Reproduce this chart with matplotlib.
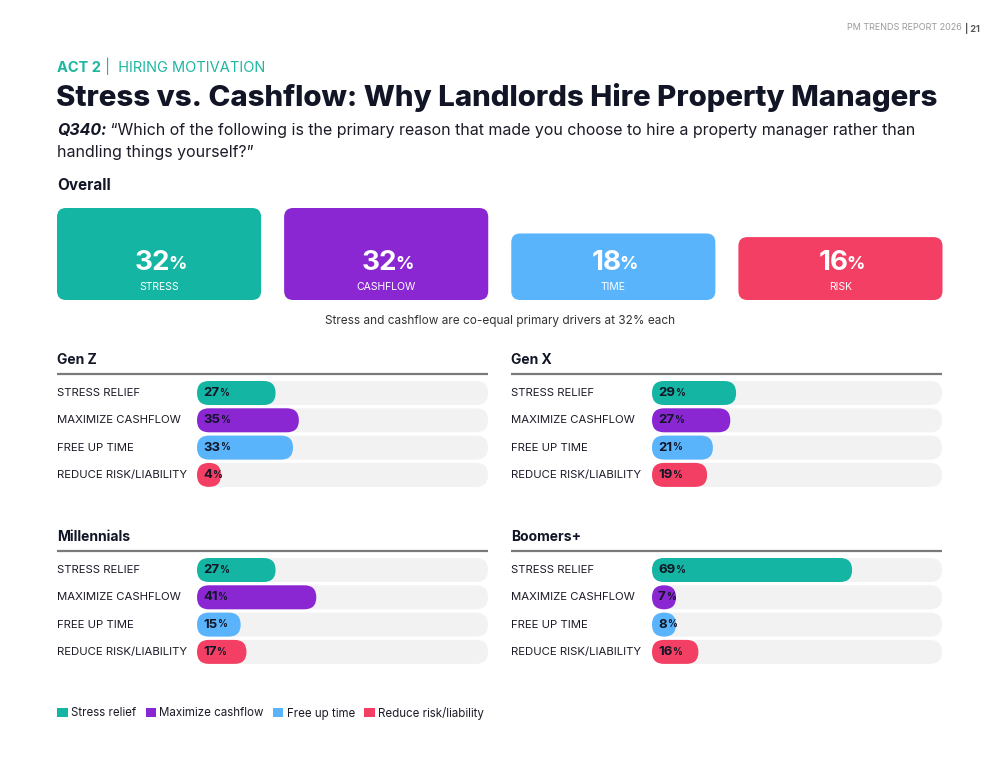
import matplotlib
matplotlib.use("Agg")
import matplotlib.pyplot as plt
from matplotlib.patches import FancyBboxPatch, Patch
from matplotlib.transforms import blended_transform_factory, offset_copy

W, H = 1000, 773
FONT = ['Inter', 'DejaVu Sans']
plt.rcParams['font.family'] = FONT

# ---------------- data ----------------
categories = ["STRESS RELIEF", "MAXIMIZE CASHFLOW", "FREE UP TIME", "REDUCE RISK/LIABILITY"]
legend_labels = ["Stress relief", "Maximize cashflow", "Free up time", "Reduce risk/liability"]
overall_labels = ["STRESS", "CASHFLOW", "TIME", "RISK"]
overall_values = [32, 32, 18, 16]
gen_z = [27, 35, 33, 4]
gen_x = [29, 27, 21, 19]
millennials = [27, 41, 15, 17]
boomers = [69, 7, 8, 16]
panel_titles = ["Gen Z", "Gen X", "Millennials", "Boomers+"]
colors = ["#14B5A2", "#8A27D2", "#5AB4FC", "#F43F64"]

TXT = "#1c1c28"
TITLE = "#111526"
TEAL = "#1DB7A0"

fig = plt.figure(figsize=(10, 7.73), dpi=100)
bg = fig.add_axes([0, 0, 1, 1])
bg.set_xlim(0, W)
bg.set_ylim(H, 0)
bg.axis('off')


def rect(x0, y0, x1, y1):
    return [x0 / W, 1 - y1 / H, (x1 - x0) / W, (y1 - y0) / H]


def aspect_of(ax):
    bb = ax.get_position()
    wpx = bb.width * W
    hpx = bb.height * H
    x0, x1 = ax.get_xlim()
    y0, y1 = ax.get_ylim()
    px = wpx / abs(x1 - x0)
    py = hpx / abs(y1 - y0)
    return px / py, px


# ---------------- header ----------------
bg.text(980, 28, "| 21", ha='right', va='center', fontsize=6.5, color='#555555', fontweight='bold')
bg.text(962, 28, "PM TRENDS REPORT 2026", ha='right', va='center', fontsize=6.5, color='#9a9a9a')

t = bg.text(57, 68, "ACT 2", ha='left', va='center', fontsize=10.5, color=TEAL, fontweight='bold')
bg.annotate(" |  HIRING MOTIVATION", xy=(1, 0), xycoords=t, ha='left', va='bottom',
            fontsize=10.5, color=TEAL)

bg.text(56, 97, "Stress vs. Cashflow: Why Landlords Hire Property Managers", ha='left', va='center',
        fontsize=21.2, fontweight='heavy', color=TITLE)

q = bg.text(57, 130, "Q340:", ha='left', va='center', fontsize=11.5, fontweight='bold', style='italic', color=TITLE)
bg.annotate(" \u201cWhich of the following is the primary reason that made you choose to hire a property manager rather than",
            xy=(1, 0), xycoords=q, ha='left', va='bottom', fontsize=11.5, color=TXT)
bg.text(57, 153, "handling things yourself?\u201d", ha='left', va='center', fontsize=11.5, color=TXT)

bg.text(57, 186, "Overall", ha='left', va='center', fontsize=11, fontweight='bold', color=TITLE)

# ---------------- overall boxes ----------------
ax_o = fig.add_axes(rect(57, 208, 943, 300))
ax_o.set_xlim(-0.4493, 3.4515)
ax_o.set_ylim(-18.6, 32)
ax_o.axis('off')
asp_o, px_o = aspect_of(ax_o)
r_o = 9 / px_o
bw = 204 / 227
ylo = ax_o.get_ylim()[0]
tr_o = blended_transform_factory(ax_o.transData, bg.transData)
for i, (v, lab, c) in enumerate(zip(overall_values, overall_labels, colors)):
    ax_o.add_patch(FancyBboxPatch((i - bw / 2, ylo), bw, v - ylo,
                                  boxstyle=f"round,pad=0,rounding_size={r_o}",
                                  mutation_aspect=asp_o, fc=c, ec='none'))
    num = ax_o.text(i, 263, str(v), transform=offset_copy(tr_o, fig=fig, x=-7, y=0, units='dots'),
                    ha='center', va='center', fontsize=20, fontweight='bold', color='white')
    ax_o.annotate("%", xy=(1, 0.12), xycoords=num, xytext=(-1.2, 0), textcoords='offset points',
                  ha='left', va='bottom', fontsize=13, fontweight='bold', color='white')
    ax_o.text(i, 287, lab, transform=tr_o, ha='center', va='center', fontsize=7.5, color='white')

bg.text(500, 321, "Stress and cashflow are co-equal primary drivers at 32% each", ha='center', va='center',
        fontsize=8.5, color='#333333')

# ---------------- panels ----------------
panels = [
    (panel_titles[0], gen_z, 57, 488, 197, 360),
    (panel_titles[1], gen_x, 511, 942, 652, 360),
    (panel_titles[2], millennials, 57, 488, 197, 537),
    (panel_titles[3], boomers, 511, 942, 652, 537),
]
ROW = 27.3
BARH = 24
for title, vals, x0, x1, tx0, ty in panels:
    bg.text(x0, ty, title, ha='left', va='center', fontsize=10, fontweight='bold', color=TITLE)
    bg.plot([x0, x1], [ty + 14, ty + 14], color='#7a7a7a', lw=1.6, solid_capstyle='butt')
    c0 = ty + 33
    ax = fig.add_axes(rect(tx0, c0 - ROW / 2, x1, c0 + 3 * ROW + ROW / 2))
    ax.set_xlim(0, 100)
    ax.set_ylim(3.5, -0.5)
    ax.axis('off')
    asp, px = aspect_of(ax)
    r = (BARH / 2) / px
    h = BARH / ROW
    lab_tr = blended_transform_factory(bg.transData, ax.transData)
    for k, (cat, v, c) in enumerate(zip(categories, vals, colors)):
        ax.add_patch(FancyBboxPatch((0, k - h / 2), 100, h,
                                    boxstyle=f"round,pad=0,rounding_size={r}",
                                    mutation_aspect=asp, fc='#f2f2f2', ec='none'))
        ax.add_patch(FancyBboxPatch((0, k - h / 2), max(v, 2 * r), h,
                                    boxstyle=f"round,pad=0,rounding_size={r}",
                                    mutation_aspect=asp, fc=c, ec='none'))
        ax.text(x0, k, cat, transform=lab_tr, ha='left', va='center', fontsize=8.2, color=TXT)
        n = ax.text(0, k, str(v), transform=offset_copy(ax.transData, fig=fig, x=6, y=0, units='dots'),
                    ha='left', va='center', fontsize=9.5, fontweight='bold', color=TITLE)
        ax.annotate("%", xy=(1, 0.1), xycoords=n, xytext=(0, 0), textcoords='offset points',
                    ha='left', va='bottom', fontsize=7, fontweight='bold', color=TITLE)

# ---------------- legend ----------------
handles = [Patch(fc=c, ec='none', label=l) for c, l in zip(colors, legend_labels)]
fig.legend(handles=handles, loc='center left', bbox_to_anchor=(47 / W, 1 - 713 / H), ncol=4,
           frameon=False, fontsize=8.3, handlelength=0.9, handleheight=0.9, handletextpad=0.3,
           columnspacing=0.8, labelcolor=TXT)

fig.savefig("out.png", dpi=100)
